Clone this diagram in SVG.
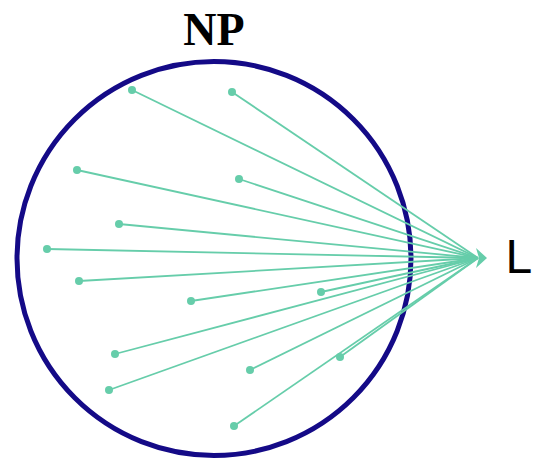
<svg xmlns="http://www.w3.org/2000/svg" width="533" height="459" viewBox="0 0 533 459">
<style>
.set{fill:none;stroke:#140a87;stroke-width:5}
.ln{stroke:#66cdaa;stroke-width:1.8;fill:none}
.pt{fill:#66cdaa}
.np{font-family:"Liberation Serif","DejaVu Serif",serif;font-weight:bold;font-size:46px;fill:#000}
.lb{font-family:"Liberation Sans",Arial,sans-serif;font-size:48px;fill:#000}
</style>
<rect width="533" height="459" fill="#fff"/>
<g id="np">
<circle class="set" cx="214" cy="258.5" r="197"/>
<text class="np" x="214" y="45" text-anchor="middle">NP</text>
</g>
<g id="connectors">
<line class="ln" x1="132" y1="90" x2="478" y2="258"/>
<line class="ln" x1="232" y1="92" x2="478" y2="258"/>
<line class="ln" x1="77" y1="170" x2="478" y2="258"/>
<line class="ln" x1="239" y1="179" x2="478" y2="258"/>
<line class="ln" x1="119" y1="224" x2="478" y2="258"/>
<line class="ln" x1="47" y1="249" x2="478" y2="258"/>
<line class="ln" x1="79" y1="281" x2="478" y2="258"/>
<line class="ln" x1="191" y1="301" x2="478" y2="258"/>
<line class="ln" x1="321" y1="292" x2="478" y2="258"/>
<line class="ln" x1="115" y1="354" x2="478" y2="258"/>
<line class="ln" x1="109" y1="390" x2="478" y2="258"/>
<line class="ln" x1="250" y1="370" x2="478" y2="258"/>
<line class="ln" x1="340" y1="357" x2="478" y2="258"/>
<line class="ln" x1="234" y1="426" x2="478" y2="258"/>
<polygon class="pt" points="476,248 487,258 476,268 479,258"/>
</g>
<g id="points">
<circle class="pt" cx="132" cy="90" r="4"/>
<circle class="pt" cx="232" cy="92" r="4"/>
<circle class="pt" cx="77" cy="170" r="4"/>
<circle class="pt" cx="239" cy="179" r="4"/>
<circle class="pt" cx="119" cy="224" r="4"/>
<circle class="pt" cx="47" cy="249" r="4"/>
<circle class="pt" cx="79" cy="281" r="4"/>
<circle class="pt" cx="191" cy="301" r="4"/>
<circle class="pt" cx="321" cy="292" r="4"/>
<circle class="pt" cx="115" cy="354" r="4"/>
<circle class="pt" cx="109" cy="390" r="4"/>
<circle class="pt" cx="250" cy="370" r="4"/>
<circle class="pt" cx="340" cy="357" r="4"/>
<circle class="pt" cx="234" cy="426" r="4"/>
</g>
<g id="L">
<text class="lb" x="505.5" y="273">L</text>
</g>
</svg>
